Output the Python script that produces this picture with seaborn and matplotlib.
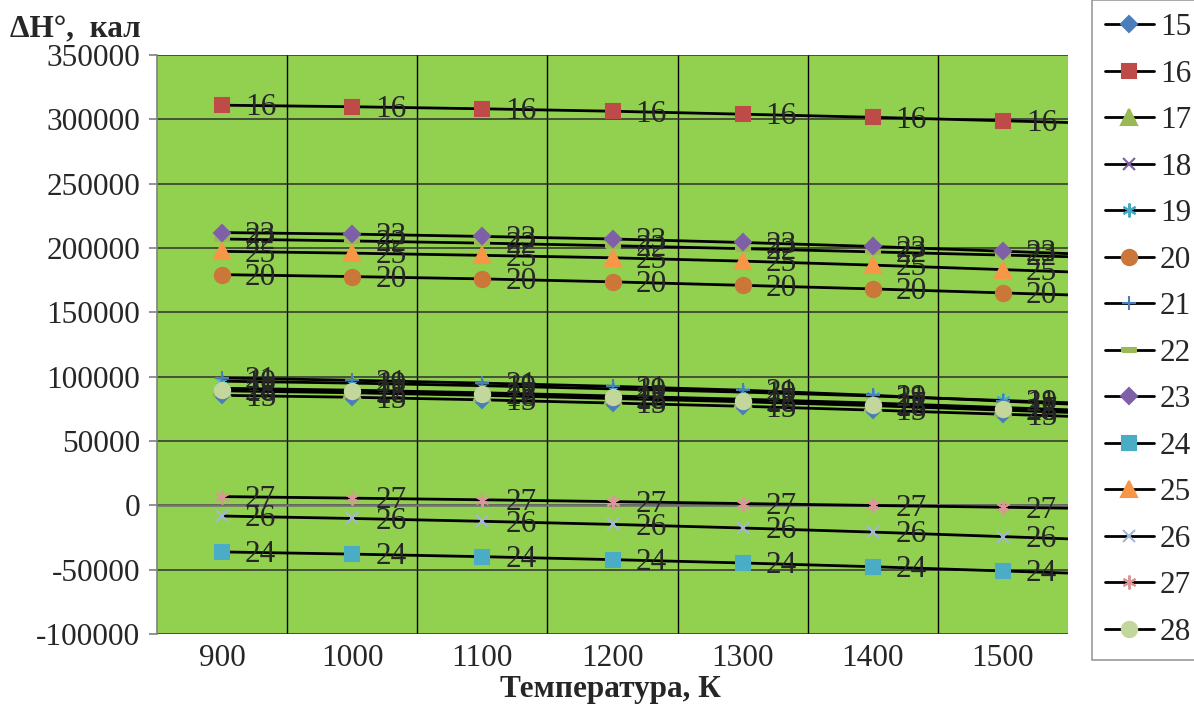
import numpy as np
import pandas as pd
import matplotlib
matplotlib.use("Agg")
import matplotlib.pyplot as plt
from matplotlib.lines import Line2D
from matplotlib.ticker import MultipleLocator, FuncFormatter
import seaborn as sns

# данные: температура, К и ΔH° (кал) для реакций 15-28
temps = [900, 1000, 1100, 1200, 1300, 1400, 1500]
names = ["15", "16", "17", "18", "19", "20", "21", "22", "23", "24", "25", "26", "27", "28"]

s15 = [85500, 84000, 82000, 79500, 77000, 74000, 70800]
s16 = [311000, 309800, 308200, 306300, 304000, 301600, 298900]
s17 = [91000, 89500, 87500, 85000, 82500, 79500, 76000]
s18 = [89000, 87500, 85500, 83000, 80500, 77500, 74000]
s19 = [96500, 95000, 93000, 90500, 88000, 85000, 81500]
s20 = [179300, 177800, 176000, 173700, 171000, 168200, 165100]
s21 = [99000, 97200, 95000, 92500, 89500, 85500, 81000]
s22 = [207000, 205500, 203800, 201800, 199500, 197000, 194500]
s23 = [212000, 210800, 209000, 207000, 204300, 201200, 197500]
s24 = [-36200, -37900, -39900, -42200, -44800, -47700, -51000]
s25 = [197400, 196000, 194300, 192400, 189800, 186700, 183200]
s26 = [-8300, -10200, -12400, -14800, -17600, -20800, -24300]
s27 = [6800, 5600, 4300, 2900, 1400, -100, -1500]
s28 = [90000, 88500, 86500, 84000, 81000, 78000, 74500]

series = dict(zip(names, [s15, s16, s17, s18, s19, s20, s21, s22, s23, s24, s25, s26, s27, s28]))

# маркеры в стиле Excel
dash = [(-1, -0.3), (1, -0.3), (1, 0.3), (-1, 0.3), (-1, -0.3)]
style = {
    "15": ("D", "#4A7EBB", 8),
    "16": ("s", "#BE4B48", 10),
    "17": ("^", "#98B954", 11),
    "18": ("x", "#7D60A0", 8.5),
    "19": ((6, 2, 0), "#46AAC5", 10),
    "20": ("o", "#CB7739", 11),
    "21": ("+", "#4A7EBB", 10),
    "22": (dash, "#98B954", 10),
    "23": ("D", "#7F60A8", 8),
    "24": ("s", "#4BACC6", 10),
    "25": ("^", "#F79646", 11),
    "26": ("x", "#A5B6DB", 8.5),
    "27": ((6, 2, 0), "#D99795", 10),
    "28": ("o", "#C3D69B", 11),
}

sns.set_style("white")
plt.rcParams["font.family"] = ["Liberation Serif", "DejaVu Serif"]
plt.rcParams["axes.unicode_minus"] = False

fs = 22.5

fig = plt.figure(figsize=(11.94, 7.06), dpi=100)
ax = fig.add_axes([157 / 1194, 1 - 634 / 706, (1068 - 157) / 1194, (634 - 55) / 706])
ax.set_facecolor("#92D050")

x_right = 1550
for name in names:
    vals = series[name]
    m, col, ms = style[name]
    sns.lineplot(x=temps, y=vals, ax=ax, color="black", lw=2, marker=m, ms=ms,
                 markerfacecolor=col, markeredgecolor=col, markeredgewidth=1.5, zorder=3)
    # продолжение линии до края области построения
    slope = (vals[-1] - vals[-2]) / (temps[-1] - temps[-2])
    ax.plot([temps[-1], x_right], [vals[-1], vals[-1] + slope * (x_right - temps[-1])],
            color="black", lw=2, zorder=2)
    for t, v in zip(temps, vals):
        ax.annotate(name, (t, v), xytext=(16.5, -2), textcoords="offset points",
                    ha="left", va="center", fontsize=fs, zorder=5)

ax.set_xlim(850, x_right)
ax.set_ylim(-100000, 350000)
ax.set_xticks(temps)
ax.set_xticks([950, 1050, 1150, 1250, 1350, 1450], minor=True)
ax.yaxis.set_major_locator(MultipleLocator(50000))
ax.yaxis.set_major_formatter(FuncFormatter(lambda v, p: f"{v:.0f}"))

ax.grid(True, axis="y", which="major", color="#303030", lw=1.1, zorder=1)
ax.grid(True, axis="x", which="minor", color="black", lw=1, zorder=1)
ax.grid(False, axis="x", which="major")
ax.axhline(0, color="#707070", lw=1.8, zorder=1)

for sp in ["top", "right", "bottom"]:
    ax.spines[sp].set_visible(False)
ax.spines["left"].set_color("#808080")
ax.spines["left"].set_linewidth(1.2)
ax.tick_params(axis="y", which="major", direction="out", length=6, width=1.2,
               color="#808080", labelsize=fs, pad=6, left=True)
ax.tick_params(axis="x", which="both", length=0, labelsize=fs, pad=7)
ax.set_xlabel("")
ax.set_ylabel("")

fig.text(10 / 1194, 1 - 30 / 706, "ΔH°,  кал", ha="left", va="center",
         fontsize=fs, fontweight="bold")
fig.text(610 / 1194, 1 - 690 / 706, "Температура, К", ha="center", va="center",
         fontsize=fs, fontweight="bold")

handles = []
for name in names:
    m, col, ms = style[name]
    handles.append(Line2D([], [], color="black", lw=2, marker=m, ms=ms,
                          markerfacecolor=col, markeredgecolor=col, markeredgewidth=1.5))
leg = fig.legend(handles, names, loc="upper left", bbox_to_anchor=(1092 / 1194, 1.0),
                 fontsize=fs, frameon=True, fancybox=False, edgecolor="#808080",
                 handlelength=1.55, handletextpad=0.2, labelspacing=0.56,
                 borderpad=0.42, borderaxespad=0)
leg.get_frame().set_linewidth(1.2)

fig.savefig("out.png", dpi=100)
